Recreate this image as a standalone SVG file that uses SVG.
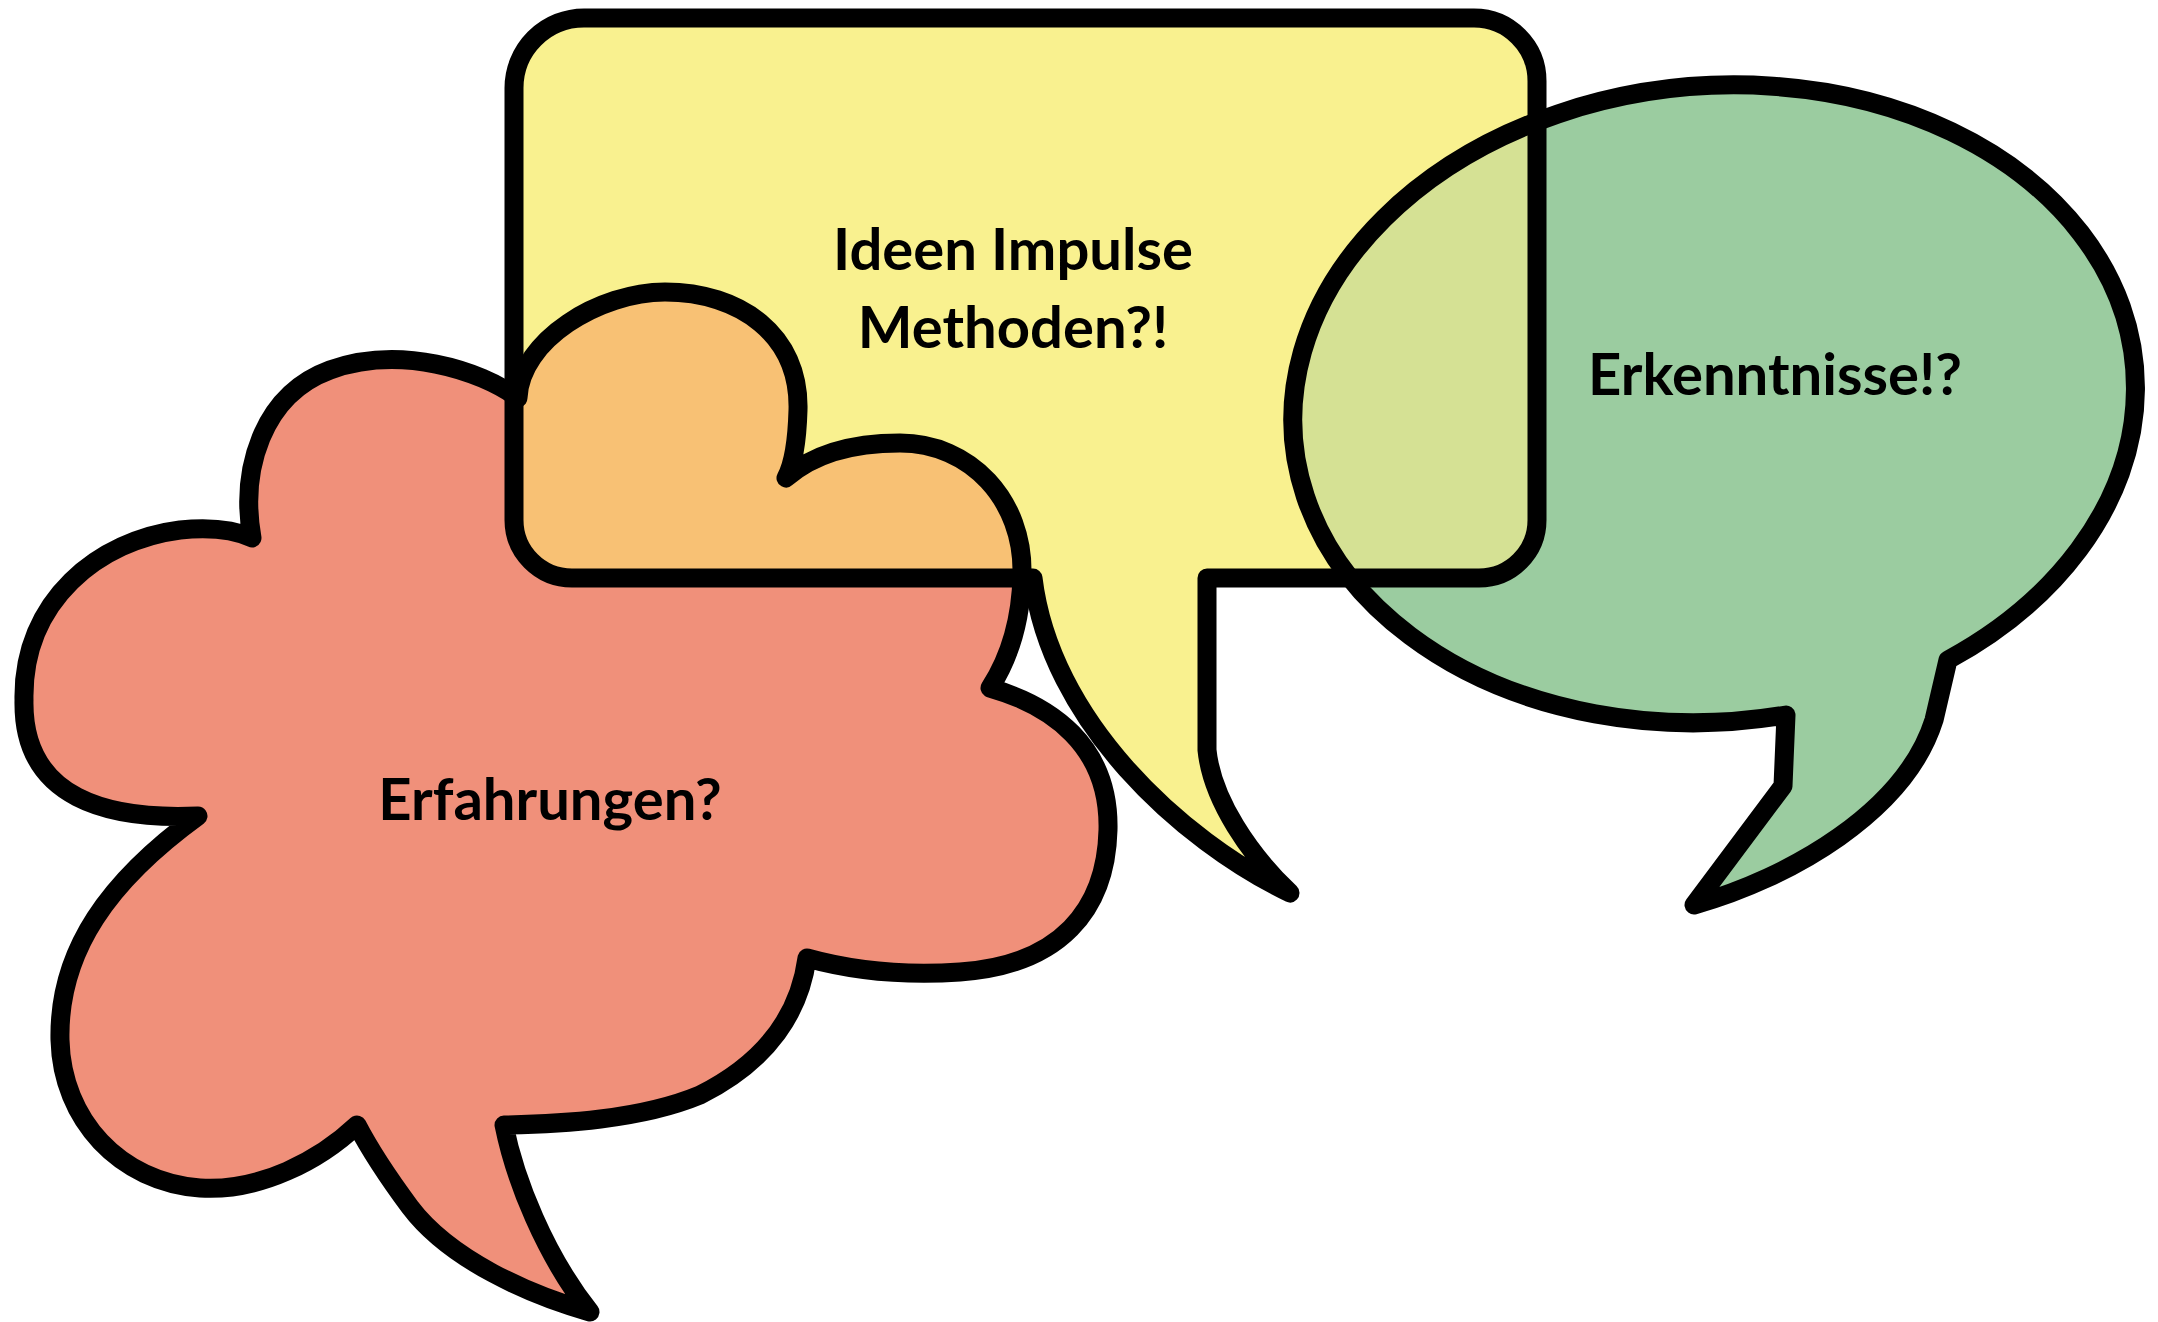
<svg xmlns="http://www.w3.org/2000/svg" width="2158" height="1322" viewBox="0 0 2158 1322">
<style>
  .ol{fill:none;stroke:#000;stroke-width:19;stroke-linejoin:round;stroke-linecap:round}
  .t{font-family:Lato,"Open Sans","Liberation Sans",sans-serif;font-weight:700;font-size:58px;fill:#000;text-anchor:middle}
</style>
<defs>
  <path id="cloud-shape" d="M 252 538 C 240 470 262 395 330 370 C 400 345 480 370 518 398
    C 520 340 600 292 665 292 C 740 292 800 335 798 410 C 797 445 793 465 786 478
    C 812 455 850 443 900 443 C 970 443 1024 500 1022 575 C 1021 625 1008 660 990 688
    C 1050 705 1110 745 1108 830 C 1106 910 1060 965 960 972 C 900 976 850 970 807 958
    C 800 1010 770 1060 700 1095 C 640 1120 560 1124 504 1125
    C 515 1180 545 1255 590 1312 C 530 1295 450 1260 410 1207 C 390 1180 370 1150 357 1125
    C 320 1160 260 1192 200 1188 C 120 1182 62 1120 60 1040 C 58 950 110 880 198 816
    C 110 820 22 800 24 700 C 22 600 100 540 180 530 C 210 527 235 530 252 538 Z"/>
  <path id="box-shape" d="M 584 18 L 1474 18 A 63 63 0 0 1 1537 81 L 1537 520 A 58 58 0 0 1 1479 578
    L 1207 578 L 1207 750 C 1212 800 1250 855 1290 893 C 1180 840 1050 720 1033 578
    L 572 578 A 58 58 0 0 1 514 520 L 514 88 A 70 70 0 0 1 584 18 Z"/>
  <path id="bubble-shape" d="M 1948 660 A 422 318 -5 1 0 1786 715 L 1783 786 L 1694 905
    C 1790 878 1905 812 1934 720 L 1948 660 Z"/>
  <clipPath id="clip-box"><use href="#box-shape"/></clipPath>
</defs>
<rect width="2158" height="1322" fill="#ffffff"/>
<g id="node-erfahrungen">
  <use href="#cloud-shape" fill="#F0907A"/>
  <text class="t" x="550" y="820">Erfahrungen?</text>
</g>
<g id="node-ideen">
  <use href="#box-shape" fill="#F9F18F"/>
  <use href="#cloud-shape" fill="#F8C174" clip-path="url(#clip-box)"/>
  <text class="t" x="1013" y="270">Ideen Impulse</text>
  <text class="t" x="1013" y="348">Methoden?!</text>
</g>
<g id="node-erkenntnisse">
  <use href="#bubble-shape" fill="#9BCCA0"/>
  <use href="#bubble-shape" fill="#D5E194" clip-path="url(#clip-box)"/>
  <text class="t" x="1775" y="395">Erkenntnisse!?</text>
</g>
<g id="outlines">
  <use href="#cloud-shape" class="ol"/>
  <use href="#box-shape" class="ol"/>
  <use href="#bubble-shape" class="ol"/>
</g>
</svg>
